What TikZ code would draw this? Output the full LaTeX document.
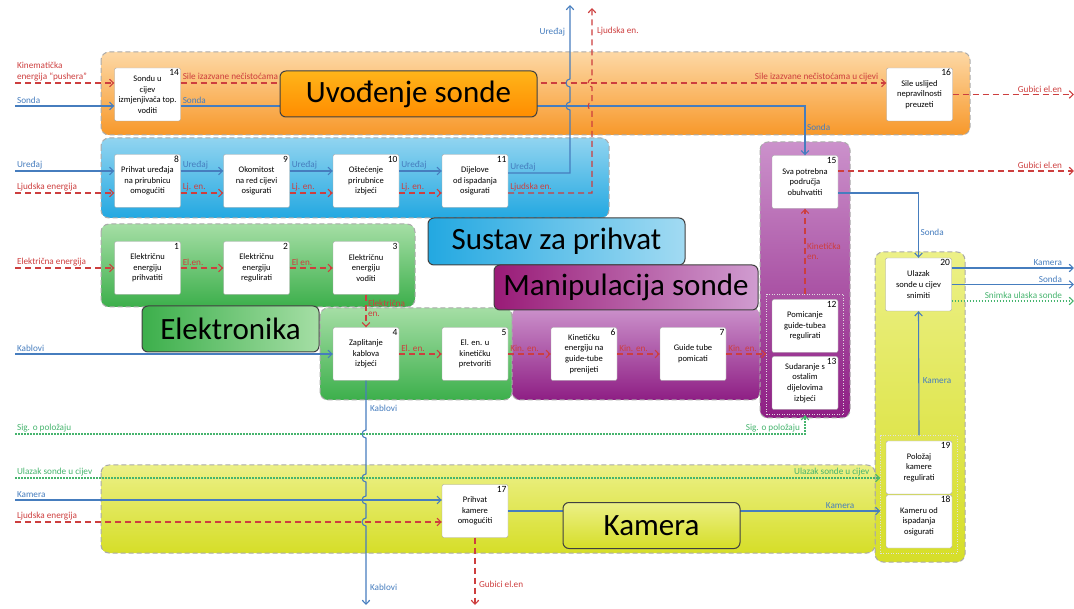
\documentclass[tikz,border=0pt]{standalone}
\usepackage{fontspec}
\setmainfont{Carlito}
\usetikzlibrary{arrows.meta}
\usetikzlibrary{fit}
\definecolor{plava}{RGB}{70,125,190}
\definecolor{crvena}{RGB}{205,62,62}
\definecolor{zelena}{RGB}{70,180,110}
\definecolor{rub}{RGB}{170,170,170}
\definecolor{narT}{RGB}{253,216,165}
\definecolor{narB}{RGB}{247,152,42}
\definecolor{plaT}{RGB}{145,212,240}
\definecolor{plaB}{RGB}{35,168,225}
\definecolor{zelT}{RGB}{165,222,165}
\definecolor{zelB}{RGB}{60,175,75}
\definecolor{ljuT}{RGB}{203,145,203}
\definecolor{ljuB}{RGB}{142,30,132}
\definecolor{zutT}{RGB}{236,240,135}
\definecolor{zutB}{RGB}{214,222,40}
\newcommand{\funkcija}[5]{\node[funkcija] (#1) at (#2,#3) {#5}; \node[broj] (#1b) at (#1.north east) {#4};}
\tikzset{
  funkcija/.style={draw=gray!70, fill=white, rounded corners=2pt, minimum width=66pt, minimum height=53pt, inner sep=1pt, align=center, font=\fontsize{8.5}{10.7}\selectfont},
  broj/.style={anchor=north east, inner sep=1.5pt, font=\fontsize{9.5}{10}\selectfont},
  podrucje/.style={draw=rub, line width=1pt, dash pattern=on 5pt off 3pt, rounded corners=8pt},
  grupa/.style={draw=white!75!gray, line width=1pt, dash pattern=on 1pt off 1.5pt, inner sep=5pt},
  naslov/.style={draw=black!75, line width=1pt, rounded corners=6pt, inner sep=0pt, font=\fontsize{31}{34}\selectfont},
  oznaka/.style={font=\fontsize{9.2}{10.8}\selectfont, inner sep=1.5pt},
  vrh/.style={-{Straight Barb[length=4pt,width=7.5pt]}},
  tok/.style={vrh, color=plava, line width=1.1pt, nodes={oznaka}},
  energija/.style={vrh, color=crvena, line width=1.1pt, dash pattern=on 6pt off 4pt, nodes={oznaka}},
  signal/.style={vrh, color=zelena, line width=1.1pt, dash pattern=on 1.5pt off 1.5pt, nodes={oznaka}}
}
\begin{document}
\begin{tikzpicture}[x=1pt, y=-1pt]
    \useasboundingbox (0,0) rectangle (1074,609);
    % podrucja
    \draw[podrucje, top color=narT, bottom color=narB] (101,52) rectangle (970,135);
    \draw[podrucje, top color=plaT, bottom color=plaB] (101,138) rectangle (609,218);
    \draw[podrucje, top color=zelT, bottom color=zelB] (101,224) rectangle (415,307);
    \draw[podrucje, top color=zelT, bottom color=zelB] (320,308) rectangle (512,400);
    \draw[podrucje, top color=ljuT, bottom color=ljuB] (512,308) rectangle (760,400);
    \draw[podrucje, top color=ljuT, bottom color=ljuB] (760,142) rectangle (850,418);
    \draw[podrucje, top color=zutT, bottom color=zutB] (875,252) rectangle (965,562);
    \draw[podrucje, top color=zutT, bottom color=zutB] (101,465) rectangle (875,553);
    % funkcije
    \funkcija{n14}{147.5}{94.5}{14}{Sondu u\\cijev\\izmjenjivača top.\\voditi}
    \funkcija{n16}{919.5}{94.5}{16}{Sile uslijed\\nepravilnosti\\preuzeti}
    \funkcija{n8}{147.5}{181}{8}{Prihvat uređaja\\na prirubnicu\\omogućiti}
    \funkcija{n9}{256.5}{181}{9}{Okomitost\\na red cijevi\\osigurati}
    \funkcija{n10}{366}{181}{10}{Oštećenje\\prirubnice\\izbjeći}
    \funkcija{n11}{475}{181}{11}{Dijelove\\od ispadanja\\osigurati}
    \funkcija{n1}{147.5}{268}{1}{Električnu\\energiju\\prihvatiti}
    \funkcija{n2}{256.5}{268}{2}{Električnu\\energiju\\regulirati}
    \funkcija{n3}{366}{268}{3}{Električnu\\energiju\\voditi}
    \funkcija{n4}{366}{354}{4}{Zaplitanje\\kablova\\izbjeći}
    \funkcija{n5}{475}{354}{5}{El. en. u\\kinetičku\\pretvoriti}
    \funkcija{n6}{584}{354}{6}{Kinetičku\\energiju na\\guide-tube\\prenijeti}
    \funkcija{n7}{693}{354}{7}{Guide tube\\pomicati}
    \funkcija{n15}{805}{182}{15}{Sva potrebna\\područja\\obuhvatiti}
    \funkcija{n12}{805}{326}{12}{Pomicanje\\guide-tubea\\regulirati}
    \funkcija{n13}{805}{383}{13}{Sudaranje s\\ostalim\\dijelovima\\izbjeći}
    \funkcija{n20}{918.5}{284.5}{20}{Ulazak\\sonde u cijev\\snimiti}
    \funkcija{n19}{919}{467.5}{19}{Položaj\\kamere\\regulirati}
    \funkcija{n18}{919}{521.5}{18}{Kameru od\\ispadanja\\osigurati}
    \funkcija{n17}{475}{511}{17}{Prihvat\\kamere\\omogućiti}
    \node[grupa, fit=(n12)(n13)] (g1) {};
    \node[grupa, fit=(n19)(n18)] (g2) {};
    % slobodni krajevi
    \coordinate (ulKin) at (15,83);
    \coordinate (ulSonda) at (15,106);
    \coordinate (ulUredaj) at (15,171);
    \coordinate (ulLjudska) at (15,193);
    \coordinate (ulElen) at (15,268);
    \coordinate (ulKablovi) at (15,354);
    \coordinate (ulSig) at (15,434);
    \coordinate (ulUlazak) at (15,478);
    \coordinate (ulKamera) at (15,500);
    \coordinate (ulLjudska2) at (15,522);
    \coordinate (izUredaj) at (570,5);
    \coordinate (izLjudska) at (592,8);
    \coordinate (izGubici1) at (1074,94.5);
    \coordinate (izGubici2) at (1074,171);
    \coordinate (izKamera) at (1074,268);
    \coordinate (izSonda) at (1074,284.5);
    \coordinate (izSnimka) at (1074,301);
    \coordinate (izKablovi) at (366,605);
    \coordinate (izGubici3) at (475,605);
    % uvodjenje sonde
    \draw[energija] (ulKin) -- (ulKin -| n14.west) node[at start, above right, align=left]{Kinematička\\energija “pushera”};
    \draw[tok] (ulSonda) -- (ulSonda -| n14.west) node[at start, above right]{Sonda};
    \draw[energija] ([yshift=11.5]n14.east) -- ([yshift=11.5]n16.west) node[at start, above right]{Sile izazvane nečistoćama u cijevi} node[at end, above left, xshift=-6]{Sile izazvane nečistoćama u cijevi};
    \draw[tok] ([yshift=-11.5]n14.east) -| (n15.north) node[pos=0, above right]{Sonda} node[pos=0.72, right]{Sonda};
    \draw[energija] (n16.east) -- (izGubici1) node[at end, above left, xshift=-10]{Gubici el.en};
    % sustav za prihvat
    \draw[tok] (ulUredaj) -- (ulUredaj -| n8.west) node[at start, above right]{Uređaj};
    \draw[energija] (ulLjudska) -- (ulLjudska -| n8.west) node[at start, above right]{Ljudska energija};
    \draw[tok] ([yshift=10]n8.east) -- ([yshift=10]n9.west) node[at start, above right]{Uređaj};
    \draw[energija] ([yshift=-12]n8.east) -- ([yshift=-12]n9.west) node[at start, above right]{Lj. en.};
    \draw[tok] ([yshift=10]n9.east) -- ([yshift=10]n10.west) node[at start, above right]{Uređaj};
    \draw[energija] ([yshift=-12]n9.east) -- ([yshift=-12]n10.west) node[at start, above right]{Lj. en.};
    \draw[tok] ([yshift=10]n10.east) -- ([yshift=10]n11.west) node[at start, above right]{Uređaj};
    \draw[energija] ([yshift=-12]n10.east) -- ([yshift=-12]n11.west) node[at start, above right]{Lj. en.};
    \draw[tok] ([yshift=8]n11.east) -- (570,173) node[pos=0, above right]{Uređaj} -- (570,110) arc[start angle=90, end angle=270, radius=4] -- (570,87) arc[start angle=90, end angle=270, radius=4] -- (izUredaj) node[pos=0.64, left, xshift=-3]{Uređaj};
    \draw[energija] ([yshift=-12]n11.east) -- (592,193) node[pos=0, above right]{Ljudska en.} -- (592,110) arc[start angle=90, end angle=270, radius=4] -- (592,87) arc[start angle=90, end angle=270, radius=4] -- (izLjudska) node[pos=0.67, right, xshift=3]{Ljudska en.};
    % elektronika
    \draw[energija] (ulElen) -- (n1.west) node[at start, above right]{Električna energija};
    \draw[energija] (n1.east) -- (n2.west) node[at start, above right]{El.en.};
    \draw[energija] (n2.east) -- (n3.west) node[at start, above right]{El en.};
    \draw[energija] (n3.south) -- (n4.north) node[pos=0.42, right, align=left]{Električna\\en.};
    \draw[tok] (ulKablovi) -- (n4.west) node[at start, above right]{Kablovi};
    \draw[energija] (n4.east) -- (n5.west) node[at start, above right]{El. en.};
    \draw[tok] (n4.south) -- (366,430) node[pos=0.56, right, xshift=2]{Kablovi} arc[start angle=270, end angle=90, radius=4] -- (366,474) arc[start angle=270, end angle=90, radius=4] -- (366,496) arc[start angle=270, end angle=90, radius=4] -- (366,518) arc[start angle=270, end angle=90, radius=4] -- (izKablovi) node[pos=0.78, right, xshift=2]{Kablovi};
    % manipulacija sonde
    \draw[energija] (n5.east) -- (n6.west) node[at start, above right]{Kin. en.};
    \draw[energija] (n6.east) -- (n7.west) node[at start, above right]{Kin. en.};
    \draw[energija] (n7.east) -- (n7.east -| g1.west) node[at start, above right]{Kin. en.};
    \draw[energija] (g1.north) -- (n15.south) node[pos=0.5, right, align=left]{Kinetička\\en.};
    \draw[energija] ([yshift=11]n15.east) -- (izGubici2) node[at end, above left, xshift=-10]{Gubici el.en};
    \draw[tok] ([yshift=-11]n15.east) -| (n20.north) node[pos=0.8, right]{Sonda};
    \draw[signal] (ulSig) -- (ulSig -| g1.south) node[at start, above right]{Sig. o položaju} node[at end, above left, xshift=-3]{Sig. o položaju} -- (g1.south);
    % kamera
    \draw[tok] ([yshift=16.5]n20.east) -- (izKamera) node[at end, above left, xshift=-10]{Kamera};
    \draw[tok] (n20.east) -- (izSonda) node[at end, above left, xshift=-10]{Sonda};
    \draw[signal] ([yshift=-16.5]n20.east) -- (izSnimka) node[at end, above left, xshift=-10]{Snimka ulaska sonde};
    \draw[tok] (g2.north) -- (n20.south) node[pos=0.44, right, xshift=2]{Kamera};
    \draw[signal] (ulUlazak) -- (ulUlazak -| g2.west) node[at start, above right]{Ulazak sonde u cijev} node[at end, above left, xshift=-9]{Ulazak sonde u cijev};
    \draw[tok] (ulKamera) -- (ulKamera -| n17.west) node[at start, above right]{Kamera};
    \draw[energija] (ulLjudska2) -- (ulLjudska2 -| n17.west) node[at start, above right]{Ljudska energija};
    \draw[tok] (n17.east) -- (n17.east -| g2.west) node[at end, above left, xshift=-24]{Kamera};
    \draw[energija] (n17.south) -- (izGubici3) node[pos=0.7, right, xshift=2]{Gubici el.en};
    % naslovi
    \node[naslov, minimum width=257pt, minimum height=46pt, top color=orange!65!yellow!90!white, bottom color=orange!90!yellow] (tUvod) at (408.5,94) {Uvođenje sonde};
    \node[naslov, minimum width=257pt, minimum height=47pt, left color=plaB, right color=plaT!85!white] (tSustav) at (556.5,241.5) {Sustav za prihvat};
    \node[naslov, minimum width=264pt, minimum height=45pt, left color=ljuB!90!red, right color=ljuT!90!white] (tManip) at (626,287.5) {Manipulacija sonde};
    \node[naslov, minimum width=177pt, minimum height=46pt, left color=zelB, right color=zelT] (tElek) at (230.5,329) {Elektronika};
    \node[naslov, minimum width=177pt, minimum height=46pt, top color=zutT, bottom color=zutB] (tKam) at (651.5,525.5) {Kamera};
\end{tikzpicture}
\end{document}
